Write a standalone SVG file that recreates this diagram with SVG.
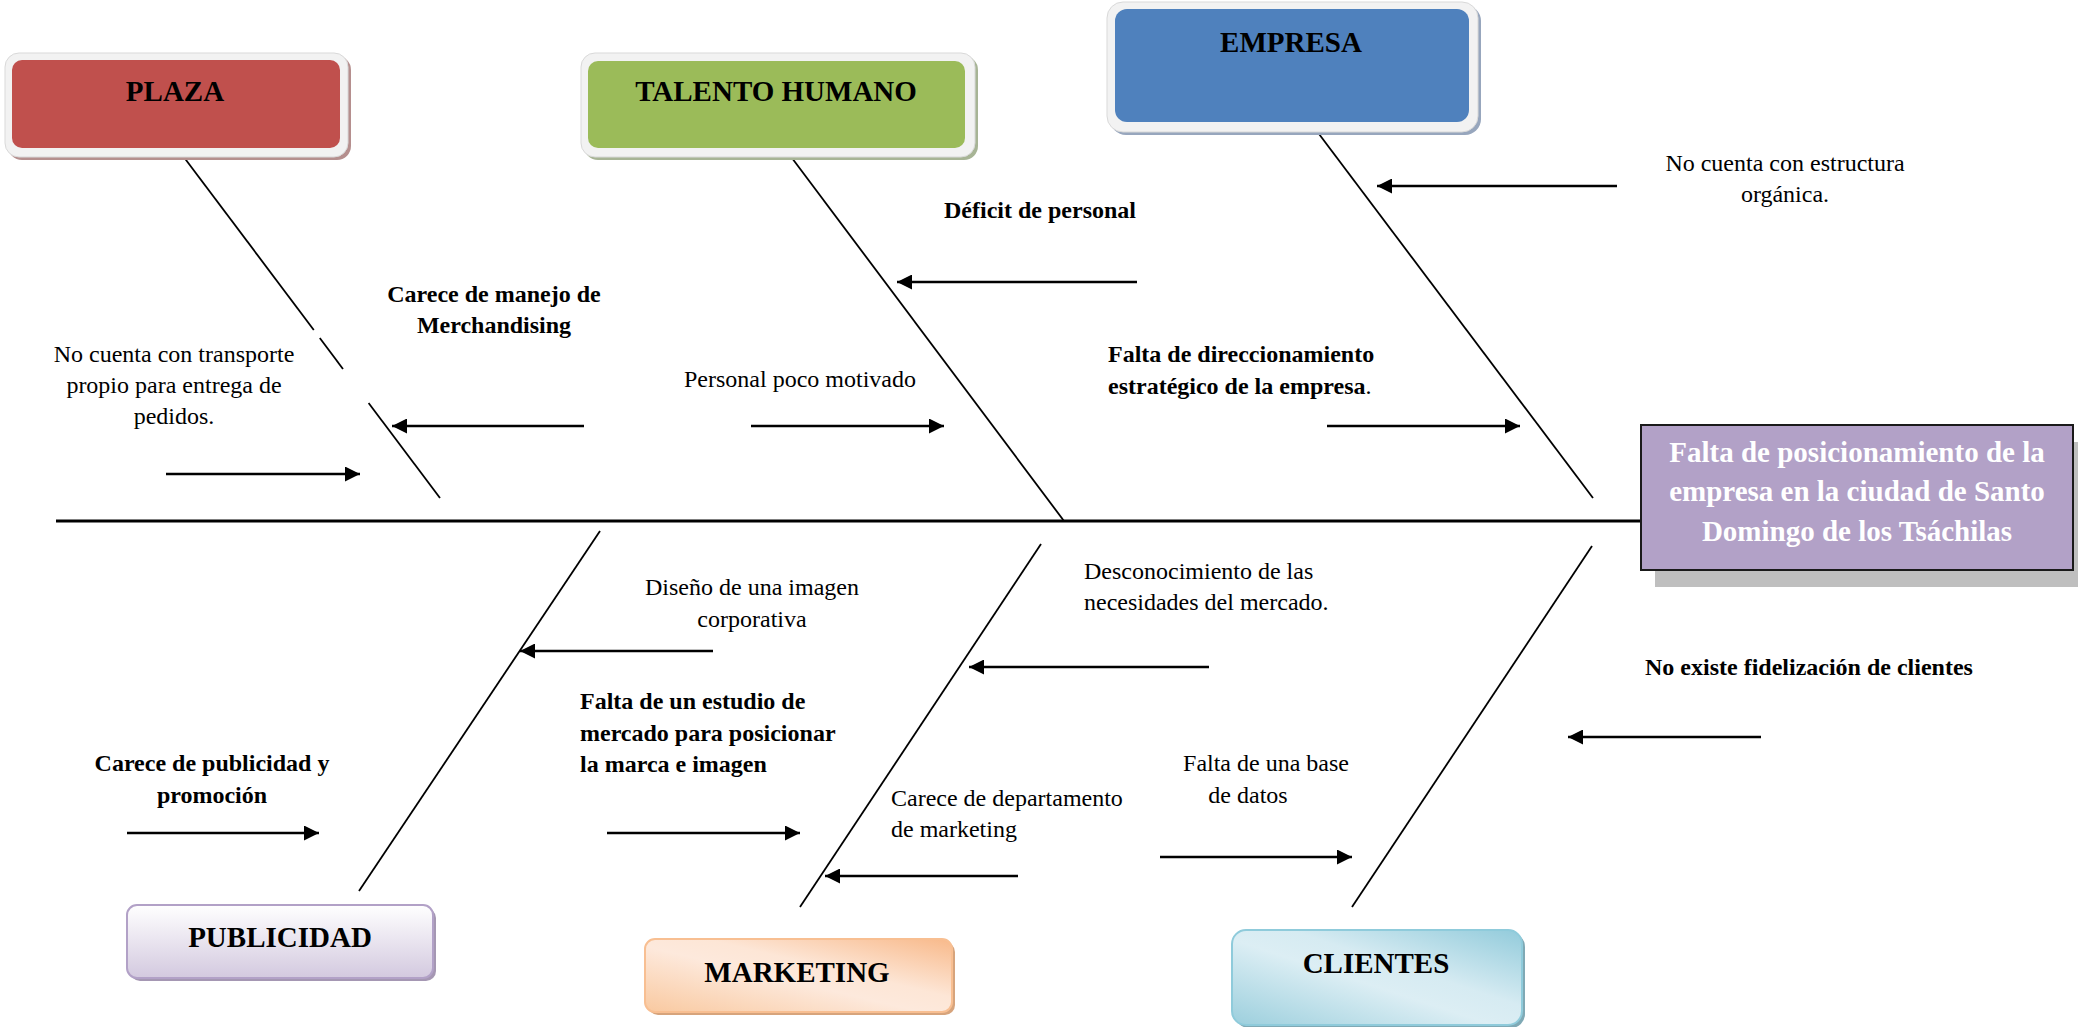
<svg xmlns="http://www.w3.org/2000/svg" width="2078" height="1027" viewBox="0 0 2078 1027">
<defs>
<style>
.t{font-family:"Liberation Serif","Times New Roman",serif;font-size:24px;fill:#000}
.b{font-weight:bold}
.title{font-family:"Liberation Serif","Times New Roman",serif;font-size:29px;font-weight:bold;fill:#000;text-anchor:middle}
.c{text-anchor:middle}
.bone{stroke:#000;stroke-width:1.8;fill:none}
.arr{stroke:#000;stroke-width:2.6;fill:none;marker-end:url(#ah)}
.outer{fill:#f2f2f2;stroke:#d9d9d9;stroke-width:1}
</style>
<marker id="ah" markerUnits="userSpaceOnUse" markerWidth="16" markerHeight="15" refX="15" refY="7.5" orient="auto">
<path d="M0,0 L15,7.5 L0,15 z" fill="#000"/>
</marker>
<linearGradient id="gPub" x1="0" y1="0" x2="0" y2="1">
<stop offset="0" stop-color="#ffffff"/>
<stop offset="1" stop-color="#d3c9df"/>
</linearGradient>
<linearGradient id="gMkt" x1="0" y1="1" x2="1" y2="0">
<stop offset="0" stop-color="#f9c9a0"/>
<stop offset="0.45" stop-color="#fde9dc"/>
<stop offset="0.6" stop-color="#fde6d6"/>
<stop offset="1" stop-color="#f8b98a"/>
</linearGradient>
<linearGradient id="gCli" x1="0" y1="1" x2="1" y2="0">
<stop offset="0" stop-color="#9ccfdd"/>
<stop offset="0.45" stop-color="#dceef4"/>
<stop offset="0.6" stop-color="#d6ebf2"/>
<stop offset="1" stop-color="#92cbdb"/>
</linearGradient>
</defs>
<rect width="2078" height="1027" fill="#fff"/>

<g id="connectors">
<line x1="56" y1="521" x2="1641" y2="521" stroke="#000" stroke-width="3"/>
<line class="bone" x1="183" y1="156" x2="313.8" y2="330"/>
<line class="bone" x1="319.8" y1="338" x2="343" y2="369"/>
<line class="bone" x1="368.6" y1="403" x2="440" y2="498"/>
<line class="bone" x1="777" y1="138" x2="1064" y2="521"/>
<line class="bone" x1="1316" y1="130" x2="1593" y2="498"/>
<line class="bone" x1="600" y1="531" x2="359" y2="891"/>
<line class="bone" x1="1041" y1="544" x2="800" y2="907"/>
<line class="bone" x1="1592" y1="546" x2="1352" y2="907"/>
<line class="arr" x1="584" y1="426" x2="392" y2="426"/>
<line class="arr" x1="166" y1="474" x2="360" y2="474"/>
<line class="arr" x1="751" y1="426" x2="944" y2="426"/>
<line class="arr" x1="1137" y1="282" x2="897" y2="282"/>
<line class="arr" x1="1327" y1="426" x2="1520" y2="426"/>
<line class="arr" x1="1617" y1="186" x2="1377" y2="186"/>
<line class="arr" x1="713" y1="651" x2="520" y2="651"/>
<line class="arr" x1="1209" y1="667" x2="969" y2="667"/>
<line class="arr" x1="127" y1="833" x2="319" y2="833"/>
<line class="arr" x1="607" y1="833" x2="800" y2="833"/>
<line class="arr" x1="1018" y1="876" x2="825" y2="876"/>
<line class="arr" x1="1160" y1="857" x2="1352" y2="857"/>
<line class="arr" x1="1761" y1="737" x2="1568" y2="737"/>
</g>

<g id="plaza">
<rect x="8" y="56" width="343" height="104" rx="14" fill="#b58f8e"/>
<rect class="outer" x="5" y="53" width="343" height="104" rx="14"/>
<rect x="12" y="60" width="328" height="88" rx="10" fill="#c0504d"/>
<text class="title" x="175" y="101">PLAZA</text>
</g>

<g id="talento-humano">
<rect x="584" y="56" width="394" height="104" rx="14" fill="#a7b495"/>
<rect class="outer" x="581" y="53" width="394" height="104" rx="14"/>
<rect x="588" y="61" width="377" height="87" rx="10" fill="#9bbb59"/>
<text class="title" x="776" y="101">TALENTO HUMANO</text>
</g>

<g id="empresa">
<rect x="1110" y="5" width="371" height="130" rx="16" fill="#97a6bd"/>
<rect class="outer" x="1107" y="2" width="371" height="130" rx="16"/>
<rect x="1115" y="9" width="354" height="113" rx="12" fill="#4f81bd"/>
<text class="title" x="1291" y="52">EMPRESA</text>
</g>

<g id="efecto">
<rect x="1655" y="442" width="423" height="145" fill="#bfbfbf"/>
<rect x="1641" y="425" width="432" height="145" fill="#b2a1c7" stroke="#1a1a1a" stroke-width="2"/>
<text class="title" x="1857" y="462" style="fill:#fff">Falta de posicionamiento de la</text>
<text class="title" x="1857" y="501" style="fill:#fff">empresa en la ciudad de Santo</text>
<text class="title" x="1857" y="541" style="fill:#fff">Domingo de los Tsáchilas</text>
</g>

<g id="publicidad">
<rect x="130" y="908" width="306" height="73" rx="10" fill="#a597b3"/>
<rect x="127" y="905" width="306" height="73" rx="10" fill="url(#gPub)" stroke="#b2a1c7" stroke-width="2"/>
<text class="title" x="280" y="947">PUBLICIDAD</text>
</g>

<g id="marketing">
<rect x="648" y="942" width="307" height="73" rx="10" fill="#d7a47c"/>
<rect x="645" y="939" width="307" height="73" rx="10" fill="url(#gMkt)" stroke="#f8bf92" stroke-width="2"/>
<text class="title" x="797" y="982">MARKETING</text>
</g>

<g id="clientes">
<rect x="1235" y="933" width="290" height="95" rx="14" fill="#7fa9b5"/>
<rect x="1232" y="930" width="290" height="95" rx="14" fill="url(#gCli)" stroke="#8fcbdb" stroke-width="2"/>
<text class="title" x="1376" y="973">CLIENTES</text>
</g>

<g id="labels">
<text class="t b c" x="494" y="302">Carece de manejo de</text>
<text class="t b c" x="494" y="333">Merchandising</text>
<text class="t c" x="174" y="362">No cuenta con transporte</text>
<text class="t c" x="174" y="393">propio para entrega de</text>
<text class="t c" x="174" y="424">pedidos.</text>
<text class="t c" x="800" y="387">Personal poco motivado</text>
<text class="t b c" x="1040" y="218">Déficit de personal</text>
<text class="t b" x="1108" y="362">Falta de direccionamiento</text>
<text class="t b" x="1108" y="394">estratégico de la empresa<tspan font-weight="normal">.</tspan></text>
<text class="t c" x="1785" y="171">No cuenta con estructura</text>
<text class="t c" x="1785" y="202">orgánica.</text>
<text class="t c" x="752" y="595">Diseño de una imagen</text>
<text class="t c" x="752" y="627">corporativa</text>
<text class="t" x="1084" y="579">Desconocimiento de las</text>
<text class="t" x="1084" y="610">necesidades del mercado.</text>
<text class="t b" x="580" y="709">Falta de un estudio de</text>
<text class="t b" x="580" y="741">mercado para posicionar</text>
<text class="t b" x="580" y="772">la marca e imagen</text>
<text class="t b c" x="212" y="771">Carece de publicidad y</text>
<text class="t b c" x="212" y="803">promoción</text>
<text class="t" x="891" y="806">Carece de departamento</text>
<text class="t" x="891" y="837">de marketing</text>
<text class="t c" x="1266" y="771">Falta de una base</text>
<text class="t c" x="1248" y="803">de datos</text>
<text class="t b" x="1645" y="675">No existe fidelización de clientes</text>
</g>
</svg>
